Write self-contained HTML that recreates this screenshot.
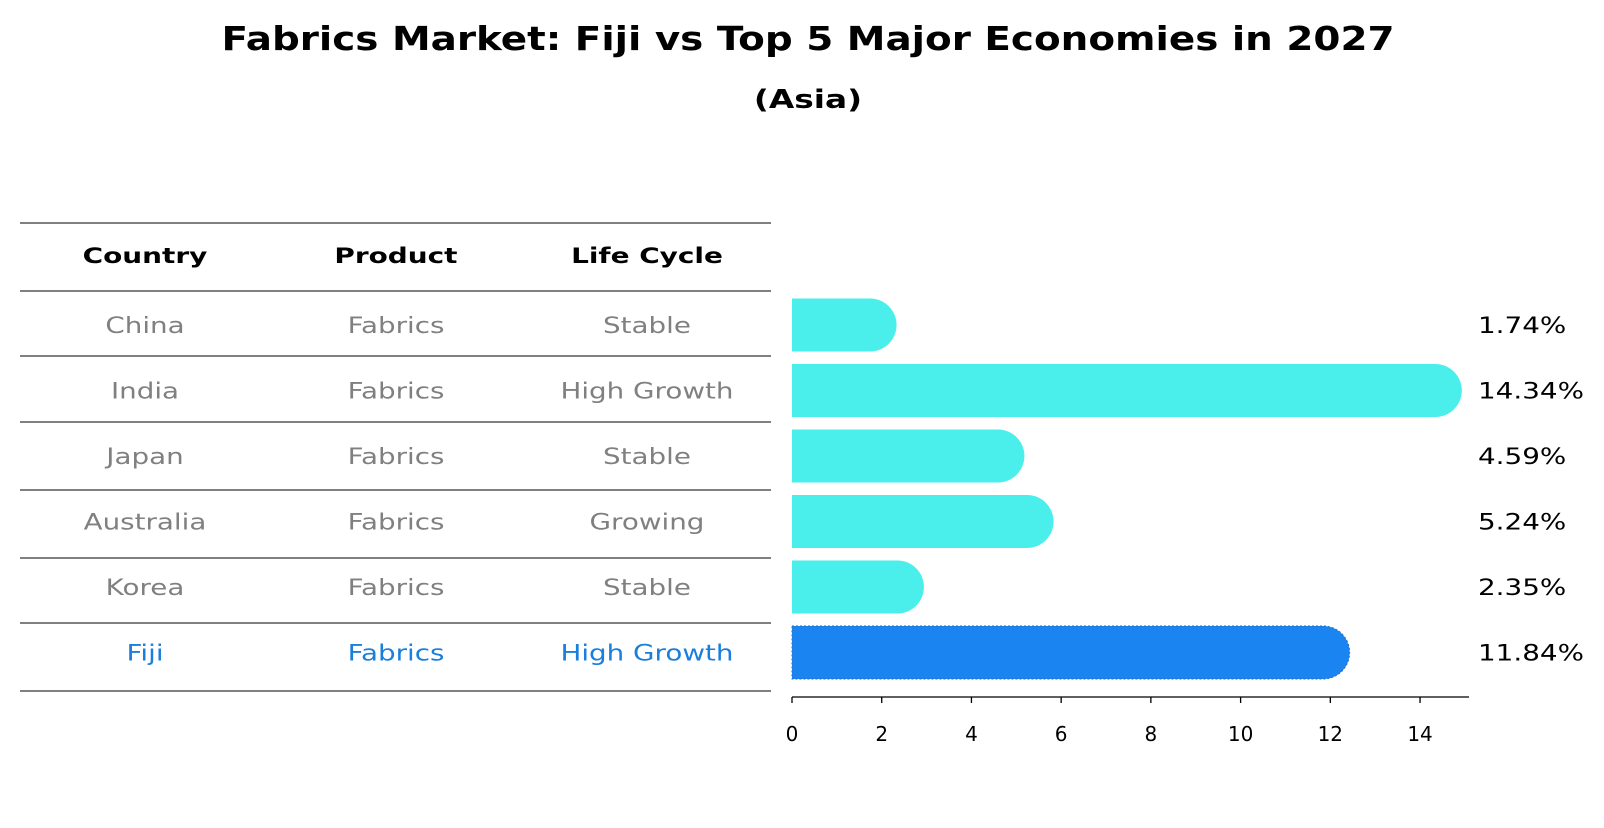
<!DOCTYPE html>
<html><head><meta charset="utf-8"><style>
body{margin:0;background:#fff;font-family:"Liberation Sans","DejaVu Sans",sans-serif}
</style></head><body>
<svg width="1604" height="823" xmlns="http://www.w3.org/2000/svg" font-family="DejaVu Sans, Liberation Sans, sans-serif">
<text id="ttl" x="808" y="50" text-anchor="middle" font-size="33" font-weight="bold">Fabrics Market: Fiji vs Top 5 Major Economies in 2027</text>
<text id="sub" x="808" y="108" text-anchor="middle" font-size="26" font-weight="bold">(Asia)</text>
<g id="table"></g>
<g id="bars"></g>
</svg>
<script>
const countries=["China","India","Japan","Australia","Korea","Fiji"];
const products=["Fabrics","Fabrics","Fabrics","Fabrics","Fabrics","Fabrics"];
const lifecycle=["Stable","High Growth","Stable","Growing","Stable","High Growth"];
const values=[1.74,14.34,4.59,5.24,2.35,11.84];
const ticks=[0,2,4,6,8,10,12,14];
const NS="http://www.w3.org/2000/svg";
function mk(p,t,a){const e=document.createElementNS(NS,t);for(const k in a)e.setAttribute(k,a[k]);p.appendChild(e);return e;}
function widen(t,f){try{const w=t.getComputedTextLength();if(w>0){t.setAttribute('textLength',w*f);t.setAttribute('lengthAdjust','spacingAndGlyphs');}}catch(e){}}
const x=v=>792+v*44.86;
const rowY=i=>325+i*65.5;
const tb=document.getElementById('table'),bg=document.getElementById('bars');
widen(document.getElementById('ttl'),1.34*29/33);
widen(document.getElementById('sub'),1.49*22/26);
const lines=[223,291,356,422,490,558,623,691];
lines.forEach(y=>{const l=mk(tb,'line',{x1:20,x2:771,y1:y,y2:y,stroke:'#000','stroke-width':1});

});
const cx=[145,396,647];
["Country","Product","Life Cycle"].forEach((h,j)=>{const t=mk(tb,'text',{x:cx[j],y:263,'text-anchor':'middle','font-size':21,'font-weight':'bold'});t.textContent=h;


widen(t,1.55*18/21);});
countries.forEach((c,i)=>{
 const col=c==="Fiji"?"#1a7fdc":"#808080";
 [c,products[i],lifecycle[i]].forEach((v,j)=>{const t=mk(tb,'text',{x:cx[j],y:rowY(i)+8,'text-anchor':'middle','font-size':22,fill:col});t.textContent=v;
 
 
 widen(t,1.46*19/22);});
 const h=53,y0=rowY(i)-h/2,fill=c==="Fiji"?"#1a84f0":"#4aeeea";
 const w=x(values[i])-x(0);
 const p=mk(bg,'path',{d:`M${x(0)},${y0}h${w}a${h/2},${h/2} 0 0 1 0,${h}h${-w}z`,fill:fill});
 if(c==="Fiji"){p.setAttribute('stroke','#2a6cc0');p.setAttribute('stroke-dasharray','2,2');}
 
 
 const t=mk(bg,'text',{x:1478,y:rowY(i)+8,'font-size':22});t.textContent=values[i].toFixed(2)+"%";
 
 
 widen(t,1.39*20/22);
});
const ax=mk(bg,'line',{x1:x(0),x2:1469,y1:697,y2:697,stroke:'#000','stroke-width':1.3});


ticks.forEach(v=>{const l=mk(bg,'line',{x1:x(v),x2:x(v),y1:697,y2:703,stroke:'#000','stroke-width':1.3});


const t=mk(bg,'text',{x:x(v),y:741,'text-anchor':'middle','font-size':20});t.textContent=v;

});
</script>
</body></html>
